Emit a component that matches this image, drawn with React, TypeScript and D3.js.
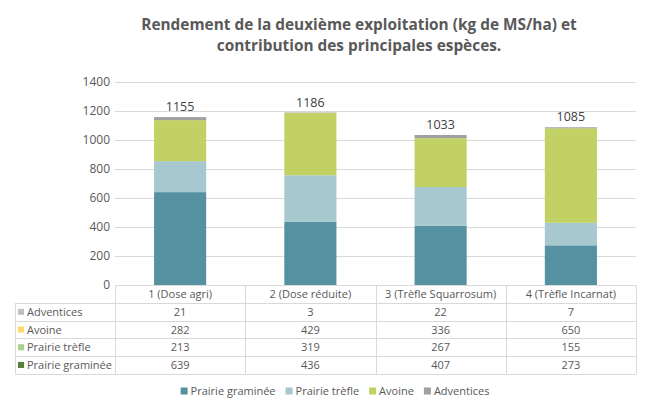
import React, { useEffect, useRef } from "react";
import * as d3 from "d3";

const categories = ["1 (Dose agri)", "2 (Dose réduite)", "3 (Trèfle Squarrosum)", "4 (Trèfle Incarnat)"];
const seriesNames = ["Prairie graminée", "Prairie trèfle", "Avoine", "Adventices"];
const prairieGraminee = [639, 436, 407, 273];
const prairieTrefle = [213, 319, 267, 155];
const avoine = [282, 429, 336, 650];
const adventices = [21, 3, 22, 7];
const totals = [1155, 1186, 1033, 1085];
const yTicks = [0, 200, 400, 600, 800, 1000, 1200, 1400];
const barColors = ["#5591a0", "#a7c8cf", "#c2d163", "#a0a0a0"];
const tableKeyColors = ["#548235", "#a9d18e", "#ffd966", "#bfbfbf"];
const titleLines = [
  "Rendement de la deuxième exploitation (kg de MS/ha) et",
  "contribution des principales espèces.",
];

const W = 650, H = 415;
const FONT = "'Open Sans', sans-serif";

export default function App() {
  const ref = useRef<SVGSVGElement>(null);
  useEffect(() => {
    const svg = d3.select(ref.current);
    svg.selectAll("*").remove();
    const seriesValues = [prairieGraminee, prairieTrefle, avoine, adventices];
    const rows = categories.map((c, i) => {
      const r: any = { cat: c };
      seriesNames.forEach((s, j) => (r[s] = seriesValues[j][i]));
      return r;
    });
    const x = d3.scaleBand().domain(categories).range([115, 636]).padding(0);
    const y = d3.scaleLinear().domain([0, 1400]).range([285, 81.5]);
    const barW = x.bandwidth() * 0.4;

    // title
    svg.append("g").selectAll("text").data(titleLines).join("text")
      .attr("x", 359).attr("y", (d, i) => 30 + i * 21)
      .attr("text-anchor", "middle")
      .attr("font-family", FONT).attr("font-size", 15.4).attr("font-weight", 700)
      .attr("fill", "#595959").text(d => d);

    // gridlines
    svg.append("g").selectAll("line").data(yTicks.slice(1)).join("line")
      .attr("x1", 115).attr("x2", 636)
      .attr("y1", d => Math.round(y(d)) + 0.5).attr("y2", d => Math.round(y(d)) + 0.5)
      .attr("stroke", "#d9d9d9").attr("stroke-width", 1);

    // y labels
    svg.append("g").selectAll("text").data(yTicks).join("text")
      .attr("x", 110).attr("y", d => y(d) + 4)
      .attr("text-anchor", "end")
      .attr("font-family", FONT).attr("font-size", 12)
      .attr("fill", "#595959").text(d => d);

    // bars
    const stack = d3.stack<any>().keys(seriesNames)(rows);
    svg.append("g").selectAll("g").data(stack).join("g")
      .attr("fill", (d, i) => barColors[i])
      .selectAll("rect").data(d => d).join("rect")
      .attr("x", (d: any) => (x(d.data.cat) as number) + (x.bandwidth() - barW) / 2)
      .attr("width", barW)
      .attr("y", d => y(d[1]))
      .attr("height", d => y(d[0]) - y(d[1]));

    // totals labels
    svg.append("g").selectAll("text").data(totals).join("text")
      .attr("x", (d, i) => (x(categories[i]) as number) + x.bandwidth() / 2)
      .attr("y", (d) => y(d) - 6)
      .attr("text-anchor", "middle")
      .attr("font-family", FONT).attr("font-size", 12.5)
      .attr("fill", "#404040").text(d => d);

    // data table
    const tableTop = 285, headerH = 18, rowH = 17.7;
    const left = 15, labelRight = 115, right = 636;
    const tableRows = [3, 2, 1, 0];
    const tBottom = tableTop + headerH + rowH * tableRows.length;
    const g = svg.append("g");
    const stroke = "#d9d9d9";
    const txt = "#595959";
    g.append("line").attr("x1", labelRight).attr("x2", right).attr("y1", tableTop + 0.5).attr("y2", tableTop + 0.5).attr("stroke", stroke);
    d3.range(tableRows.length + 1).forEach(k => {
      const yy = Math.round(tableTop + headerH + rowH * k) + 0.5;
      g.append("line").attr("x1", left).attr("x2", right).attr("y1", yy).attr("y2", yy).attr("stroke", stroke);
    });
    g.append("line").attr("x1", left + 0.5).attr("x2", left + 0.5).attr("y1", tableTop + headerH).attr("y2", tBottom).attr("stroke", stroke);
    [...categories.map(c => x(c) as number), right].forEach(xx => {
      g.append("line").attr("x1", Math.round(xx) + 0.5).attr("x2", Math.round(xx) + 0.5).attr("y1", tableTop).attr("y2", tBottom).attr("stroke", stroke);
    });
    g.selectAll("text.h").data(categories).join("text").attr("class", "h")
      .attr("x", d => (x(d) as number) + x.bandwidth() / 2)
      .attr("y", tableTop + headerH / 2 + 4)
      .attr("text-anchor", "middle").attr("font-family", FONT).attr("font-size", 11)
      .attr("fill", txt).text(d => d);
    tableRows.forEach((si, k) => {
      const cy = tableTop + headerH + rowH * k + rowH / 2;
      g.append("rect").attr("x", 18).attr("y", cy - 3).attr("width", 6).attr("height", 6).attr("fill", tableKeyColors[si]);
      g.append("text").attr("x", 27).attr("y", cy + 4)
        .attr("font-family", FONT).attr("font-size", 11).attr("fill", txt).text(seriesNames[si]);
      g.selectAll(null).data(seriesValues[si]).join("text")
        .attr("x", (d, i) => (x(categories[i]) as number) + x.bandwidth() / 2)
        .attr("y", cy + 4)
        .attr("text-anchor", "middle").attr("font-family", FONT).attr("font-size", 11)
        .attr("fill", txt).text(d => d);
    });

    // legend
    const lg = svg.append("g");
    const ly = 391;
    let cx = 0;
    const gap = 10;
    seriesNames.forEach((s, i) => {
      const it = lg.append("g");
      it.append("rect").attr("x", 0).attr("y", ly - 3.5).attr("width", 7).attr("height", 7).attr("fill", barColors[i]);
      const t = it.append("text").attr("x", 10).attr("y", ly + 4)
        .attr("font-family", FONT).attr("font-size", 11).attr("fill", "#595959").text(s);
      const w = (t.node() as SVGTextElement).getComputedTextLength();
      it.attr("transform", `translate(${cx},0)`);
      cx += 10 + w + gap;
    });
    const total = cx - gap;
    lg.attr("transform", `translate(${335 - total / 2},0)`);
  }, []);
  return <svg ref={ref} width={W} height={H} style={{ display: "block", position: "absolute", left: 0, top: 0 }} />;
}
